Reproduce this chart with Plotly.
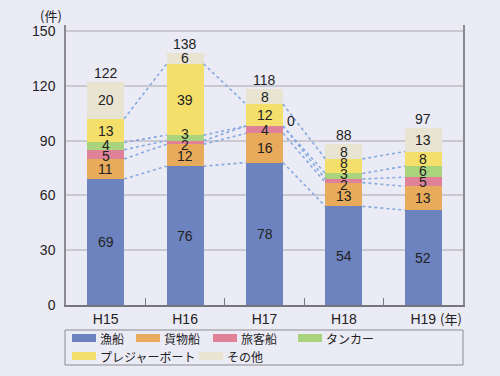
import plotly.graph_objects as go

# ---- data ----
categories = ["H15", "H16", "H17", "H18", "H19"]
series_names = ["漁船", "貨物船", "旅客船", "タンカー", "プレジャーボート", "その他"]
fishing = [69, 76, 78, 54, 52]
cargo = [11, 12, 16, 13, 13]
passenger = [5, 2, 4, 2, 5]
tanker = [4, 3, 0, 3, 6]
pleasure = [13, 39, 12, 8, 8]
other = [20, 6, 8, 8, 13]
y_ticks = [0, 30, 60, 90, 120, 150]

series = [fishing, cargo, passenger, tanker, pleasure, other]
colors = ["#6d83bf", "#e8ab5c", "#df8299", "#a9d37c", "#f5df6b", "#e9e3d1"]

NUM_FONT = "Liberation Sans, Arial, sans-serif"
JP_FONT = "Noto Sans CJK JP, sans-serif"
BW = 0.466
xs = list(range(len(categories)))

# plot geometry (px)
W, H = 500, 376
ML, MR, MT, MB = 66, 37, 25, 71
PW, PH = W - ML - MR, H - MT - MB


def px_x(p):
    return (p - ML) / PW


def px_y(p):
    return (H - MB - p) / PH


fig = go.Figure()

for name, vals, col in zip(series_names, series, colors):
    fig.add_trace(go.Bar(x=xs, y=vals, name=name, width=BW,
                         marker=dict(color=col, line=dict(width=0)),
                         showlegend=False, hoverinfo="skip"))

# cumulative levels
cum = []
run = [0] * len(categories)
for vals in series:
    lo = run[:]
    run = [a + b for a, b in zip(run, vals)]
    cum.append((lo, run[:]))
totals = run

# dotted connector lines (top of each of first 5 series)
for k in range(len(series) - 1):
    tops = cum[k][1]
    lx, ly = [], []
    for i in range(len(categories) - 1):
        lx += [xs[i] + BW / 2, xs[i + 1] - BW / 2, None]
        ly += [tops[i], tops[i + 1], None]
    fig.add_trace(go.Scatter(x=lx, y=ly, mode="lines",
                             line=dict(color="#86a9df", width=1.6, dash="dot"),
                             showlegend=False, hoverinfo="skip"))

annotations = []
GAP = 5.9
for i in range(len(categories)):
    labs = []
    for k, vals in enumerate(series):
        v = vals[i]
        lo, hi = cum[k][0][i], cum[k][1][i]
        if v == 0:
            annotations.append(dict(x=xs[i] + BW / 2, y=lo, text=str(v), showarrow=False,
                                    xanchor="left", yanchor="middle", xshift=2, yshift=5,
                                    font=dict(family=NUM_FONT, size=14, color="#222")))
        else:
            labs.append([(lo + hi) / 2, v])
    ys = [l[0] for l in labs]
    for _ in range(60):
        for j in range(1, len(ys)):
            d = ys[j] - ys[j - 1]
            if d < GAP:
                s = (GAP - d) / 2
                ys[j - 1] -= s
                ys[j] += s
    for yv, l in zip(ys, labs):
        annotations.append(dict(x=xs[i], y=yv, text=str(l[1]), showarrow=False,
                                xanchor="center", yanchor="middle",
                                font=dict(family=NUM_FONT, size=14, color="#222")))
    annotations.append(dict(x=xs[i], y=totals[i], text=str(totals[i]), showarrow=False,
                            xanchor="center", yanchor="bottom", yshift=-1,
                            font=dict(family=NUM_FONT, size=14, color="#222")))

# unit labels
annotations.append(dict(xref="paper", yref="paper", x=px_x(64), y=px_y(16), text="(件)",
                        showarrow=False, xanchor="right", yanchor="middle",
                        font=dict(family=JP_FONT, size=13, color="#222")))
annotations.append(dict(xref="paper", yref="paper", x=px_x(464), y=px_y(318), text="(年)",
                        showarrow=False, xanchor="right", yanchor="middle",
                        font=dict(family=JP_FONT, size=13, color="#222")))

# manual legend
shapes = [dict(type="rect", xref="paper", yref="paper",
               x0=px_x(65), x1=px_x(463), y0=px_y(330), y1=px_y(365),
               line=dict(color="#8a8a92", width=1), fillcolor="rgba(0,0,0,0)")]
leg_pos = [(72, 338), (136, 338), (213, 338), (298, 338), (72, 356), (199, 356)]
for name, col, (lx, ly) in zip(series_names, colors, leg_pos):
    shapes.append(dict(type="rect", xref="paper", yref="paper",
                       x0=px_x(lx), x1=px_x(lx + 24), y0=px_y(ly + 4), y1=px_y(ly - 4),
                       line=dict(width=0), fillcolor=col))
    annotations.append(dict(xref="paper", yref="paper", x=px_x(lx + 26), y=px_y(ly),
                            text=name, showarrow=False, xanchor="left", yanchor="middle",
                            font=dict(family=JP_FONT, size=12, color="#222")))

fig.update_layout(
    width=W, height=H,
    margin=dict(l=ML, r=MR, t=MT, b=MB, pad=0),
    paper_bgcolor="#ebebf5", plot_bgcolor="#ebebf5",
    barmode="stack",
    showlegend=False,
    annotations=annotations,
    shapes=shapes,
    xaxis=dict(range=[-0.5, len(categories) - 0.5], tickmode="array", tickvals=xs,
               ticktext=categories, ticks="", showgrid=False, zeroline=False,
               showline=True, linecolor="#76767c", linewidth=1.5,
               tickfont=dict(family=NUM_FONT, size=14, color="#222"),
               minor=dict(tickmode="array", tickvals=[i + 0.5 for i in xs[:-1]],
                          ticks="inside", ticklen=7, tickcolor="#76767c", tickwidth=1,
                          showgrid=False)),
    yaxis=dict(range=[0, 153.3], tickmode="array", tickvals=y_ticks, ticks="",
               showgrid=True, gridcolor="#c9c9cf", gridwidth=1.5, zeroline=False,
               showline=True, mirror=True, linecolor="#8a8a90", linewidth=1.5,
               tickfont=dict(family=NUM_FONT, size=14, color="#222"), ticklabelstandoff=6),
)

fig.write_html("out.html", config={"displayModeBar": False},
               post_script="document.body.style.margin='0';document.body.style.background='#ebebf5';")
